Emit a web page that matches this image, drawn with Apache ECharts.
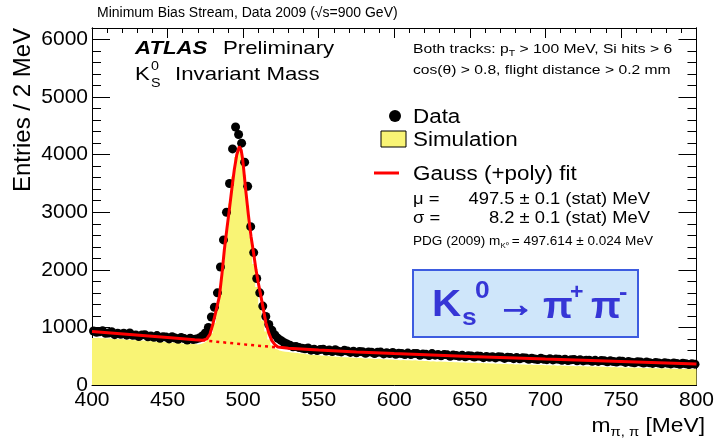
<!DOCTYPE html>
<html><head><meta charset="utf-8">
<script src="https://cdn.jsdelivr.net/npm/echarts@6/dist/echarts.min.js"></script>
<style>html,body{margin:0;padding:0;background:#fff}#c{width:717px;height:439px}</style>
</head><body><div id="c"></div><script>
// ---- data ----
const massLow = 400;          // MeV, first bin lower edge
const binWidth = 2;           // MeV per bin
const xTickInterval = 50;
const yTickInterval = 1000;

// Data: entries per 2 MeV bin, 400-800 MeV (200 bins)
const dataCounts = [
 938,915,925,940,898,902,925,874,900,882,
 898,866,905,862,868,843,870,873,836,850,
 830,858,812,840,834,800,838,816,795,825,
 806,780,812,790,800,815,850,905,
 1000,1180,1350,1600,2050,2520,3000,3500,4100,4480,4350,4200,
 3870,3450,2750,2300,1850,1600,1370,1190,1050,950,870,810,
 775,740,712,690,665,668,650,640,628,642,
 605,620,598,615,622,590,608,580,612,585,
 575,602,590,566,588,560,582,578,552,575,
 570,546,568,572,540,560,548,565,535,552,
 548,528,554,530,545,548,515,538,532,512,
 545,518,530,506,528,524,500,520,512,498,
 515,490,510,505,485,502,498,475,494,480,
 492,470,490,485,462,482,476,458,478,455,
 472,470,448,465,452,442,466,446,440,458,
 436,450,446,428,448,425,438,442,420,438,
 418,432,430,412,428,410,425,420,402,420,
 408,398,415,412,392,410,395,385,405,398,
 380,398,385,375,392,380,370,388,378,366,
 382,372,360,378,368,355,370,362
];

// Simulation: entries per 2 MeV bin (200 bins)
const simCounts = [
 818,822,812,815,808,810,800,805,795,798,
 790,785,788,778,780,770,772,765,760,762,
 752,755,745,748,740,735,738,728,730,722,
 718,722,712,710,705,712,730,760,
 810,900,1080,1350,1700,2150,2650,3150,3620,3960,4120,4020,
 3650,3120,2580,2100,1700,1380,1120,930,790,690,630,598,
 585,578,575,565,562,555,548,545,535,530,
 525,520,518,510,512,502,500,495,490,492,
 484,480,482,474,472,468,470,462,460,462,
 455,452,455,446,448,442,445,438,435,432,
 436,428,430,425,428,420,422,416,418,410,
 412,405,408,402,404,398,400,394,396,390,
 392,385,388,382,385,378,380,376,378,372,
 374,368,370,366,368,362,364,358,360,355,
 358,352,354,348,350,346,348,342,345,340,
 342,336,338,334,335,330,332,327,330,325,
 326,322,324,318,320,316,318,312,314,310,
 312,306,308,304,305,300,302,298,300,295,
 297,292,294,290,291,287,289,285,286,282,
 284,280,282,278,279,275,277,273
];

// Gauss (+poly) fit curve
const fitMass = [400,425,450,468,473,476,478,480,482,484.3,486,487.6,489.3,490.9,492.5,494.2,495.8,497.5,498.7,499.7,501.9,503.5,505.2,507,508.5,510,511.8,513.5,515.1,517,519,521,523,530,550,575,600,650,700,750,800];
const fitCounts = [928,875,823,785,776,800,880,1060,1280,1539,1930,2353,2720,3050,3400,3747,4000,4142,4080,3921,3341,2950,2585,2280,2004,1780,1539,1300,1075,900,770,700,660,640,608,575,548,497,450,408,365];

// polynomial background under the peak (dotted)
const bkgMass = [473,498,523];
const bkgCounts = [776,712,652];

// ---- chart ----
const FONT = '"Liberation Sans", Arial, Helvetica, sans-serif';
const chart = echarts.init(document.getElementById('c'), null, {renderer: 'canvas'});

const dataPts = dataCounts.map((v, i) => [massLow + binWidth * (i + 0.5), v]);
const simPts = simCounts.map((v, i) => [massLow + binWidth * i, v]);
simPts.push([massLow + binWidth * simCounts.length, simCounts[simCounts.length - 1]]);
const fitPts = fitMass.map((m, i) => [m, fitCounts[i]]);
const bkgPts = bkgMass.map((m, i) => [m, bkgCounts[i]]);

const black = '#000';
const yellow = '#f9f475';
function xAx(pos, labels) {
  return {
    type: 'value', position: pos, min: 400, max: 800, interval: xTickInterval,
    axisLine: {show: true, onZero: false, lineStyle: {color: black, width: 1}},
    axisTick: {show: true, inside: true, length: 10, lineStyle: {color: black}},
    minorTick: {show: true, splitNumber: 5, length: 5, lineStyle: {color: black}},
    splitLine: {show: false}, minorSplitLine: {show: false},
    axisLabel: {show: labels, color: black, fontSize: 21, fontFamily: FONT, margin: 5}
  };
}
function yAx(pos, labels, interval, len) {
  return {
    type: 'value', position: pos, min: 0, max: 6200, interval: interval,
    axisLine: {show: true, onZero: false, lineStyle: {color: black, width: 1}},
    axisTick: {show: true, inside: true, length: len, lineStyle: {color: black}},
    splitLine: {show: false},
    axisLabel: {show: labels, color: black, fontSize: 21, fontFamily: FONT, margin: 4,
      formatter: v => (v % yTickInterval === 0 ? String(v) : '')}
  };
}

const txt = (x, y, text, size, extra, sx) => ({
  type: 'text', x: x, y: y, scaleX: sx || 1, silent: true,
  style: Object.assign({text: text, fontSize: size, fontFamily: FONT, fill: black,
    textVerticalAlign: 'middle', textAlign: 'left'}, extra || {})
});

const blue = '#3636d6';
const B = {fontWeight: 'bold', fill: blue};
const graphics = [
  txt(97, 13, 'Minimum Bias Stream, Data 2009 (\u221As=900 GeV)', 14),
  txt(135, 49, 'ATLAS', 19, {fontWeight: 'bold', fontStyle: 'italic'}, 1.17),
  txt(223, 49, 'Preliminary', 19, null, 1.17),
  txt(135, 75, 'K', 19, null, 1.17),
  txt(151, 83, 'S', 13, null, 1.1),
  txt(151, 66, '0', 13, null, 1.1),
  txt(175, 75, 'Invariant Mass', 19, null, 1.17),
  {type: 'text', x: 413, y: 49, scaleX: 1.16, silent: true, style: {
    text: '{a|Both tracks: p}{s|T}{a| > 100 MeV, Si hits > 6}', fontFamily: FONT,
    textVerticalAlign: 'middle', rich: {a: {fontSize: 13.5, lineHeight: 18, fontFamily: FONT, fill: black},
    s: {fontSize: 9, verticalAlign: 'bottom', fontFamily: FONT, fill: black}}}},
  txt(413, 70, 'cos(\u03B8) > 0.8, flight distance > 0.2 mm', 13.5, null, 1.16),
  // legend
  {type: 'circle', shape: {cx: 395, cy: 116, r: 6}, style: {fill: black}, silent: true},
  txt(413, 117, 'Data', 20, null, 1.12),
  {type: 'rect', shape: {x: 381, y: 131, width: 25, height: 16}, style: {fill: yellow, stroke: black, lineWidth: 1}, silent: true},
  txt(413, 140, 'Simulation', 20, null, 1.12),
  {type: 'line', shape: {x1: 374, y1: 173, x2: 399, y2: 173}, style: {stroke: '#ff0000', lineWidth: 3}, silent: true},
  txt(413, 174, 'Gauss (+poly) fit', 20, null, 1.12),
  txt(413, 199, '\u03BC =', 17, null, 1.08),
  txt(650, 199, '497.5 \u00B1 0.1 (stat) MeV', 17, {textAlign: 'right'}, 1.08),
  txt(413, 218, '\u03C3 =', 17, null, 1.08),
  txt(650, 218, '8.2 \u00B1 0.1 (stat) MeV', 17, {textAlign: 'right'}, 1.08),
  {type: 'text', x: 413, y: 242, scaleX: 1.13, silent: true, style: {
    text: '{a|PDG (2009) m}{s|K\u2070}{a| = 497.614 \u00B1 0.024 MeV}', fontFamily: FONT,
    textVerticalAlign: 'middle', rich: {a: {fontSize: 12, lineHeight: 16, fontFamily: FONT, fill: black},
    s: {fontSize: 7, verticalAlign: 'bottom', fontFamily: FONT, fill: black}}}},
  // decay box
  {type: 'rect', shape: {x: 413, y: 270, width: 225, height: 67}, style: {fill: '#cfe6fa', stroke: '#3d5ce0', lineWidth: 2}, silent: true},
  txt(432, 306, 'K', 36, B, 1.12),
  txt(462, 318, 's', 24, B, 1.1),
  txt(475, 291, '0', 24, B, 1.1),
  txt(497, 307, '\u2192', 34, Object.assign({stroke: blue, lineWidth: 1.2}, B), 1.1),
  txt(543, 308, '\u03C0', 36, B, 1.08),
  txt(570, 293, '+', 22, B, 1.05),
  txt(591, 308, '\u03C0', 36, B, 1.08),
  txt(619, 293, '-', 24, B, 1.05),
  // axis titles
  {type: 'text', x: 23, y: 28, rotation: Math.PI / 2, silent: true, style: {
    text: 'Entries / 2 MeV', fontSize: 24, fontFamily: FONT, fill: black, textAlign: 'right', textVerticalAlign: 'middle'}},
  {type: 'text', x: 705, y: 426, scaleX: 1.14, silent: true, style: {
    text: '{a|m}{s|\u03C0, \u03C0}{a| [MeV]}', fontFamily: FONT, textAlign: 'right', textVerticalAlign: 'middle',
    rich: {a: {fontSize: 20, lineHeight: 26, fontFamily: FONT, fill: black},
    s: {fontSize: 13, verticalAlign: 'bottom', fontFamily: FONT, fill: black}}}}
];

chart.setOption({
  animation: false,
  backgroundColor: '#fff',
  grid: {left: 92, right: 18, top: 28, bottom: 54},
  xAxis: [xAx('bottom', true), xAx('top', false)],
  yAxis: [yAx('left', true, 1000, 18), yAx('left', false, 200, 9), yAx('right', false, 1000, 18), yAx('right', false, 200, 9)],
  series: [
    {type: 'line', name: 'Simulation', data: simPts, step: 'end', symbol: 'none',
     lineStyle: {width: 0, color: yellow}, areaStyle: {color: yellow, opacity: 1}, z: 1},
    {type: 'scatter', name: 'Data', data: dataPts, symbol: 'circle', symbolSize: 9,
     itemStyle: {color: black, opacity: 1}, z: 2},
    {type: 'line', name: 'fit', data: fitPts, symbol: 'none', lineStyle: {color: '#ff0000', width: 3}, z: 3},
    {type: 'line', name: 'bkg', data: bkgPts, symbol: 'none', lineStyle: {color: '#ff0000', width: 2.5, type: [3, 4]}, z: 3}
  ],
  graphic: graphics
});
</script></body></html>
